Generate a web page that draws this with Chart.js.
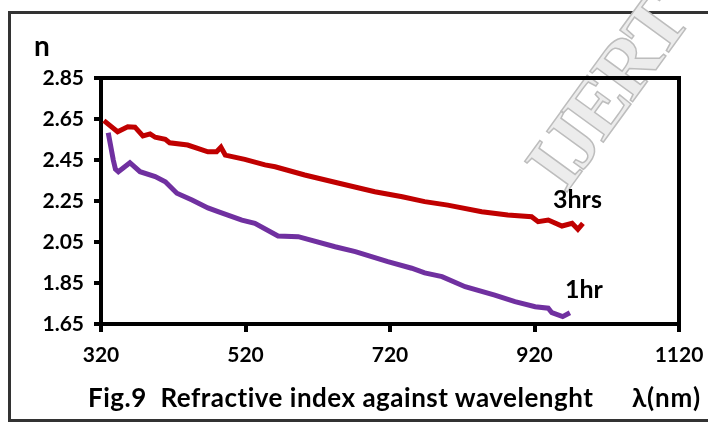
<!DOCTYPE html>
<html>
<head>
<meta charset="utf-8">
<script src="https://cdn.jsdelivr.net/npm/chart.js@4"></script>
<style>
  html, body { margin: 0; padding: 0; background: #fff; }
  #wrap { position: relative; width: 708px; height: 424px; overflow: hidden; }
  #frame { position: absolute; left: 8px; top: 11px; width: 720px; height: 405px; border: 3px solid #333; box-sizing: content-box; }
  .lbl { position: absolute; font-family: Lato, "Open Sans", sans-serif; font-weight: bold; color: #000; white-space: nowrap; line-height: 1; }
  #mark { position: absolute; left: 576px; top: 122px; font-family: "Liberation Serif", serif; font-weight: bold; font-size: 80px; line-height: 1;
          color: #ececec; -webkit-text-stroke: 1.5px #bdbdbd; transform: rotate(-54deg); transform-origin: 0 100%; letter-spacing: -4px; }
</style>
</head>
<body>
<div id="wrap">
  <div id="frame"></div>
  <div id="mark">IJERT</div>
  <canvas id="myChart" width="708" height="424" style="position:absolute;left:0;top:0;"></canvas>
  <div class="lbl" style="left:34px;top:31px;font-size:28px;">n</div>
  <div class="lbl" style="left:553px;top:186px;font-size:25px;">3hrs</div>
  <div class="lbl" style="left:565px;top:276px;font-size:25px;">1hr</div>
  <div class="lbl" style="left:88px;top:384px;font-size:26px;letter-spacing:0.5px;">Fig.9&nbsp; Refractive index against wavelenght</div>
  <div class="lbl" style="left:632px;top:384px;font-size:26px;letter-spacing:0.8px;">λ(nm)</div>
</div>
<script>
// wavelength (nm) and refractive index
var nm3hrs = [324, 343, 357, 367, 378, 388, 395, 409, 415, 440, 468, 480, 486, 492, 519, 547, 561, 602, 648, 699, 737, 768, 800, 847, 883, 916, 925, 939, 958, 972, 980, 987];
var n3hrs  = [2.642, 2.588, 2.612, 2.610, 2.567, 2.577, 2.561, 2.551, 2.534, 2.523, 2.490, 2.490, 2.512, 2.474, 2.453, 2.426, 2.417, 2.377, 2.338, 2.295, 2.271, 2.247, 2.230, 2.198, 2.182, 2.173, 2.149, 2.157, 2.128, 2.141, 2.112, 2.141];

var nm1hr = [330, 337, 340, 344, 360, 374, 395, 409, 425, 446, 468, 482, 515, 533, 565, 593, 644, 672, 717, 750, 768, 792, 824, 865, 893, 921, 939, 944, 959, 969];
var n1hr  = [2.583, 2.450, 2.405, 2.393, 2.437, 2.393, 2.369, 2.344, 2.288, 2.255, 2.216, 2.198, 2.157, 2.141, 2.079, 2.076, 2.027, 2.003, 1.954, 1.922, 1.899, 1.881, 1.832, 1.791, 1.759, 1.734, 1.727, 1.705, 1.686, 1.705];

var xTicks = [320, 520, 720, 920, 1120];
var yTicks = [1.65, 1.85, 2.05, 2.25, 2.45, 2.65, 2.85];

toPoints = (xs, ys) => xs.map((x, i) => ({ x: x, y: ys[i] }));

// top and right edges of the plot box
var boxPlugin = {
    id: 'box',
    afterDraw: (chart) => {
        var a = chart.chartArea;
        var ctx = chart.ctx;
        ctx.save();
        ctx.strokeStyle = '#000';
        ctx.lineWidth = 4;
        ctx.beginPath();
        ctx.moveTo(a.left, a.top);
        ctx.lineTo(a.right, a.top);
        ctx.lineTo(a.right, a.bottom);
        ctx.stroke();
        ctx.restore();
    }
};

var tickFont = { family: 'Lato, "Open Sans", sans-serif', weight: 'bold', size: 21 };

var myChart = new Chart(document.getElementById('myChart').getContext('2d'), {
    type: 'scatter',
    data: {
        datasets: [{
            label: '3hrs',
            data: toPoints(nm3hrs, n3hrs),
            borderColor: '#C00000',
            borderWidth: 5,
            showLine: true,
            pointRadius: 0,
            tension: 0
        }, {
            label: '1hr',
            data: toPoints(nm1hr, n1hr),
            borderColor: '#7030A0',
            borderWidth: 5,
            showLine: true,
            pointRadius: 0,
            tension: 0
        }]
    },
    plugins: [boxPlugin],
    options: {
        responsive: false,
        animation: false,
        layout: { padding: { left: 10, top: 78, right: 29, bottom: 40 } },
        plugins: { legend: { display: false }, tooltip: { enabled: false } },
        scales: {
            x: {
                type: 'linear',
                min: 320, max: 1120,
                afterBuildTicks: (s) => { s.ticks = xTicks.map(v => ({ value: v })); },
                afterFit: (s) => { s.height = 60; s.paddingLeft = 0; s.paddingRight = 0; },
                grid: { drawOnChartArea: false, drawTicks: true, tickLength: 8, color: '#000', lineWidth: 4 },
                border: { display: true, color: '#000', width: 4 },
                ticks: { color: '#000', font: tickFont, padding: 11, maxRotation: 0, callback: (v) => String(v) }
            },
            y: {
                min: 1.65, max: 2.85,
                afterBuildTicks: (s) => { s.ticks = yTicks.map(v => ({ value: v })); },
                afterFit: (s) => { s.width = 91; s.paddingTop = 0; s.paddingBottom = 0; },
                grid: { drawOnChartArea: false, drawTicks: true, tickLength: 7, color: '#000', lineWidth: 4 },
                border: { display: true, color: '#000', width: 4 },
                ticks: { color: '#000', font: tickFont, padding: 10, callback: (v) => v.toFixed(2) }
            }
        }
    }
});
</script>
</body>
</html>
